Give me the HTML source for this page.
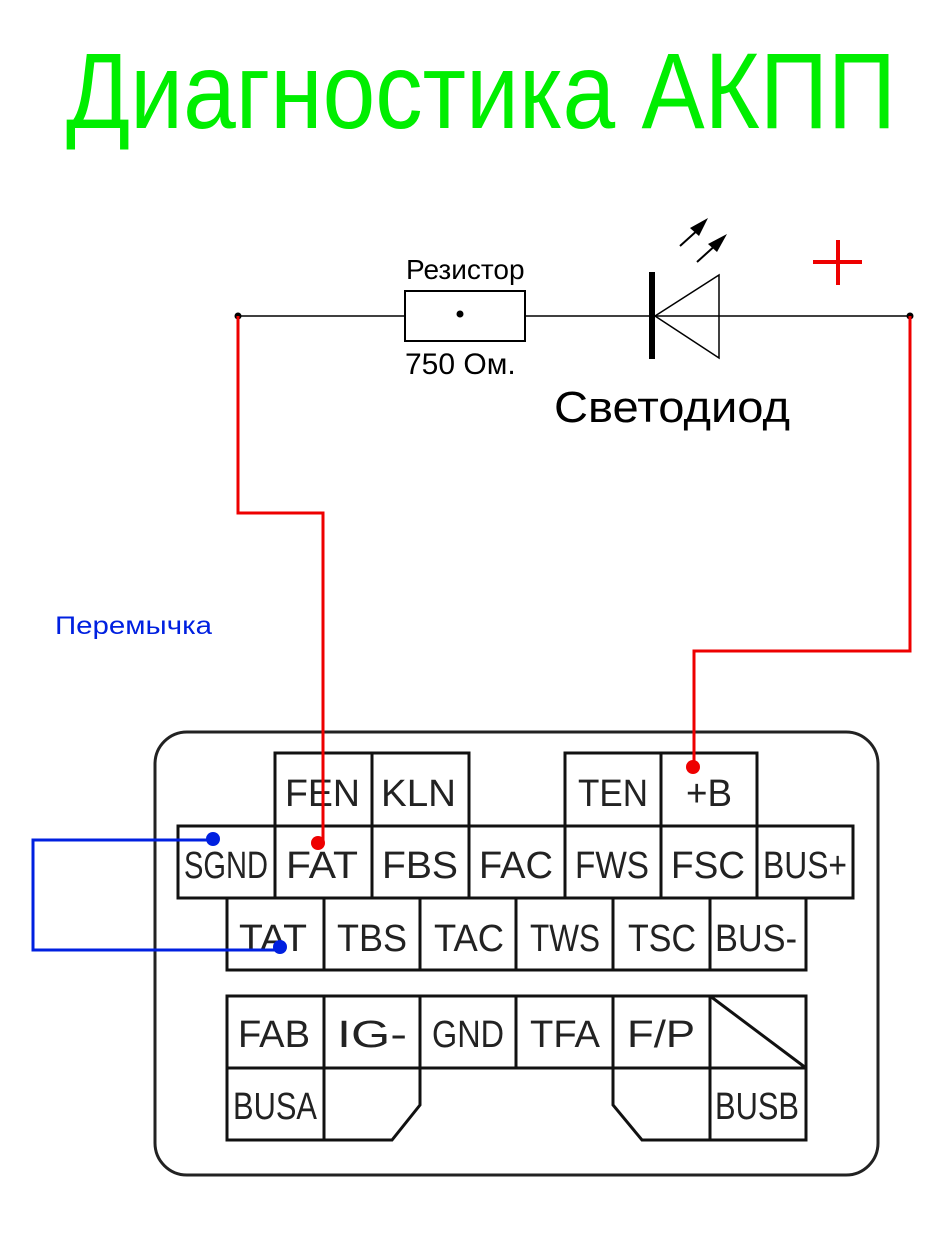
<!DOCTYPE html>
<html><head><meta charset="utf-8"><style>
html,body{margin:0;padding:0;background:#fff;}
svg{display:block;}
</style></head><body>
<svg width="947" height="1246" viewBox="0 0 947 1246" xmlns="http://www.w3.org/2000/svg" font-family="Liberation Sans, sans-serif">
<text x="66" y="128" font-size="108" fill="#00ee00" textLength="830" lengthAdjust="spacingAndGlyphs">Диагностика АКПП</text>

<!-- circuit -->
<line x1="238" y1="316" x2="910" y2="316" stroke="#000" stroke-width="1.5"/>
<rect x="405" y="291" width="120" height="50" fill="#fff" stroke="#000" stroke-width="2"/>
<circle cx="460" cy="314" r="3.5" fill="#000"/>
<text x="406" y="279" font-size="28">Резистор</text>
<text x="405" y="374" font-size="30">750 Ом.</text>
<rect x="649" y="272" width="6" height="87" fill="#000"/>
<polygon points="655,316 719,275 719,358" fill="#fff" stroke="#000" stroke-width="1.5"/>
<line x1="655" y1="316" x2="719" y2="316" stroke="#000" stroke-width="1.5"/>
<line x1="680" y1="246" x2="700" y2="228" stroke="#000" stroke-width="2"/>
<polygon points="708,218 690,228 699,236" fill="#000"/>
<line x1="697" y1="262" x2="718" y2="243" stroke="#000" stroke-width="2"/>
<polygon points="727,234 708,244 717,252" fill="#000"/>
<text x="554" y="422" font-size="44" textLength="236" lengthAdjust="spacingAndGlyphs">Светодиод</text>
<line x1="813" y1="262" x2="862" y2="262" stroke="#e00" stroke-width="4"/>
<line x1="838" y1="240" x2="838" y2="285" stroke="#e00" stroke-width="4"/>
<circle cx="238" cy="316" r="3.5" fill="#000"/>
<circle cx="910" cy="316" r="3.5" fill="#000"/>

<!-- connector -->
<rect x="155" y="732" width="723" height="443" rx="32" fill="#fff" stroke="#222" stroke-width="3"/>
<g stroke="#111" stroke-width="3" fill="#fff">
<rect x="275" y="753" width="97" height="73"/><rect x="372" y="753" width="97" height="73"/>
<rect x="565" y="753" width="96" height="73"/><rect x="661" y="753" width="96" height="73"/>
<rect x="178" y="826" width="97" height="72"/><rect x="275" y="826" width="97" height="72"/>
<rect x="372" y="826" width="97" height="72"/><rect x="469" y="826" width="96" height="72"/>
<rect x="565" y="826" width="96" height="72"/><rect x="661" y="826" width="96" height="72"/>
<rect x="757" y="826" width="96" height="72"/>
<rect x="227" y="898" width="97" height="72"/><rect x="324" y="898" width="96" height="72"/>
<rect x="420" y="898" width="96" height="72"/><rect x="516" y="898" width="97" height="72"/>
<rect x="613" y="898" width="97" height="72"/><rect x="710" y="898" width="96" height="72"/>
<rect x="227" y="996" width="97" height="72"/><rect x="324" y="996" width="96" height="72"/>
<rect x="420" y="996" width="96" height="72"/><rect x="516" y="996" width="97" height="72"/>
<rect x="613" y="996" width="97" height="72"/><rect x="710" y="996" width="96" height="72"/>
<rect x="227" y="1068" width="97" height="72"/><rect x="710" y="1068" width="96" height="72"/>
<polyline points="324,1140 392,1140 420,1105 420,1068" fill="none"/>
<polyline points="710,1140 642,1140 613,1105 613,1068" fill="none"/>
<line x1="710" y1="996" x2="806" y2="1068"/>
</g>
<g font-size="38" fill="#222" font-family="Liberation Sans, sans-serif">
<text x="285" y="806" textLength="75" lengthAdjust="spacingAndGlyphs">FEN</text>
<text x="381" y="806" textLength="75" lengthAdjust="spacingAndGlyphs">KLN</text>
<text x="578" y="806" textLength="70" lengthAdjust="spacingAndGlyphs">TEN</text>
<text x="686" y="806" textLength="46" lengthAdjust="spacingAndGlyphs">+B</text>
<text x="184" y="878" textLength="84" lengthAdjust="spacingAndGlyphs">SGND</text>
<text x="286" y="878" textLength="72" lengthAdjust="spacingAndGlyphs">FAT</text>
<text x="382" y="878" textLength="76" lengthAdjust="spacingAndGlyphs">FBS</text>
<text x="479" y="878" textLength="74" lengthAdjust="spacingAndGlyphs">FAC</text>
<text x="575" y="878" textLength="74" lengthAdjust="spacingAndGlyphs">FWS</text>
<text x="671" y="878" textLength="74" lengthAdjust="spacingAndGlyphs">FSC</text>
<text x="763" y="878" textLength="84" lengthAdjust="spacingAndGlyphs">BUS+</text>
<text x="239" y="951" textLength="68" lengthAdjust="spacingAndGlyphs">TAT</text>
<text x="337" y="951" textLength="70" lengthAdjust="spacingAndGlyphs">TBS</text>
<text x="434" y="951" textLength="70" lengthAdjust="spacingAndGlyphs">TAC</text>
<text x="530" y="951" textLength="70" lengthAdjust="spacingAndGlyphs">TWS</text>
<text x="628" y="951" textLength="68" lengthAdjust="spacingAndGlyphs">TSC</text>
<text x="715" y="951" textLength="82" lengthAdjust="spacingAndGlyphs">BUS-</text>
<text x="238" y="1047" textLength="72" lengthAdjust="spacingAndGlyphs">FAB</text>
<text x="337" y="1047" textLength="70" lengthAdjust="spacingAndGlyphs">IG-</text>
<text x="432" y="1047" textLength="72" lengthAdjust="spacingAndGlyphs">GND</text>
<text x="530" y="1047" textLength="70" lengthAdjust="spacingAndGlyphs">TFA</text>
<text x="627" y="1047" textLength="68" lengthAdjust="spacingAndGlyphs">F/P</text>
<text x="233" y="1119" textLength="84" lengthAdjust="spacingAndGlyphs">BUSA</text>
<text x="715" y="1119" textLength="84" lengthAdjust="spacingAndGlyphs">BUSB</text>
</g>

<!-- red wires -->
<polyline points="238,316 238,513 323,513 323,843" fill="none" stroke="#e00" stroke-width="3"/>
<polyline points="910,316 910,651 694,651 694,766" fill="none" stroke="#e00" stroke-width="3"/>
<circle cx="318" cy="843" r="7" fill="#e00"/>
<circle cx="693" cy="767" r="7" fill="#e00"/>

<!-- blue jumper -->
<polyline points="213,840 33,840 33,950 280,950" fill="none" stroke="#0020e0" stroke-width="3"/>
<circle cx="213" cy="839" r="7" fill="#0020e0"/>
<circle cx="280" cy="947" r="7" fill="#0020e0"/>
<text x="55" y="634" font-size="25" fill="#0020e0" textLength="157" lengthAdjust="spacingAndGlyphs">Перемычка</text>
</svg>
</body></html>
